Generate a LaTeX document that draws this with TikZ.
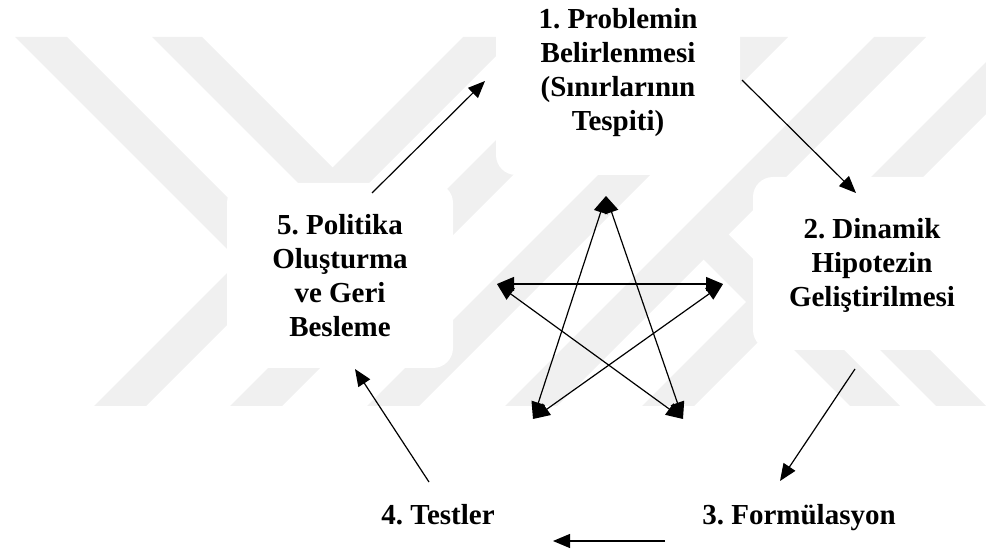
\documentclass[tikz,border=0pt]{standalone}
\usepackage{fontspec}
\setmainfont{Liberation Serif}
\usetikzlibrary{arrows.meta}
\frenchspacing
% invisible rules that fix the height of the first and the depth of the last line
\newcommand\topstrut{\rule{0pt}{21pt}}
\newcommand\botstrut{\rule[-7pt]{0pt}{7pt}}
\tikzset{
  band/.style={fill=black!6},
  backing/.style={fill=white, rounded corners=20pt},
  stage/.style={font=\fontsize{29}{34}\selectfont\bfseries, align=center, inner sep=0pt},
  flow/.style={line width=1.2pt, -{Triangle[length=17pt,width=14pt]}},
  twoway/.style={line width=1.2pt, {Triangle[length=17pt,width=14pt]}-{Triangle[length=17pt,width=14pt]}},
}
\begin{document}
\begin{tikzpicture}[x=1pt,y=-1pt]
\useasboundingbox (0,0) rectangle (986,553);

% faint background stripes
\begin{scope}
  \clip (0,0) rectangle (986,553);
  \foreach \a in {500,636,773,911,1048} {
    \fill[band] ({\a-37},37) -- ({\a+15},37) -- ({\a-354},406) -- ({\a-406},406) -- cycle;
  }
  \fill[band] (15,37) -- (67,37) -- (278,248) -- (252,274) -- cycle;
  \fill[band] (152,37) -- (202,37) -- (345.5,180.5) -- (320.5,205.5) -- cycle;
  \fill[band] (715.5,221.5) -- (900,406) -- (850,406) -- (690.5,246.5) -- cycle;
  \fill[band] (827,247) -- (986,406) -- (936,406) -- (802,272) -- cycle;
  % white panels behind the stage texts
  \fill[backing] (496,-40) rectangle (740,175);
  \fill[backing] (227,183) rectangle (453,368);
  \fill[backing] (753,177) rectangle (1010,350);
\end{scope}

% stages
\node[stage] (n1) at (618,72.75) {\topstrut 1. Problemin\\Belirlenmesi\\(Sınırlarının\\Tespiti)\botstrut};
\node[stage] (n2) at (872,265.5) {\topstrut 2. Dinamik\\Hipotezin\\Geliştirilmesi\botstrut};
\node[stage] (n3) at (799,517) {\topstrut 3. Formülasyon\botstrut};
\node[stage] (n4) at (438,517) {\topstrut 4. Testler\botstrut};
\node[stage] (n5) at (340,279) {\topstrut 5. Politika\\Oluşturma\\ve Geri\\Besleme\botstrut};

% end points of the cycle arrows
\coordinate (c51s) at (372,193);
\coordinate (c51e) at (485,81);
\coordinate (c12s) at (742,80);
\coordinate (c12e) at (856,193);
\coordinate (c23s) at (855,369);
\coordinate (c23e) at (780,481);
\coordinate (c34s) at (665,541);
\coordinate (c34e) at (553,541);
\coordinate (c45s) at (429,482);
\coordinate (c45e) at (355,369);

\draw[flow] (c51s) -- (c51e);
\draw[flow] (c12s) -- (c12e);
\draw[flow] (c23s) -- (c23e);
\draw[flow] (c34s) -- (c34e);
\draw[flow] (c45s) -- (c45e);

% star of mutual links
\coordinate (sT) at (606,196);
\coordinate (sL) at (497,284);
\coordinate (sR) at (723,284);
\coordinate (sBL) at (533,419);
\coordinate (sBR) at (683,419);

\draw[twoway] (sT) -- (sBL);
\draw[twoway] (sT) -- (sBR);
\draw[twoway] (sL) -- (sR);
\draw[twoway] (sL) -- (sBR);
\draw[twoway] (sR) -- (sBL);
\end{tikzpicture}
\end{document}
